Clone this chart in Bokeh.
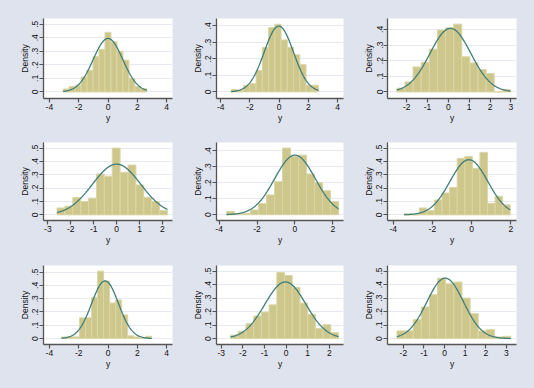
import numpy as np
from bokeh.plotting import figure
from bokeh.layouts import gridplot
from bokeh.models import FixedTicker, Range1d, GlobalInlineStyleSheet
from bokeh.embed import file_html
from bokeh.resources import INLINE

# ---------------- data ----------------
# histogram densities per panel (equal-width bins between bin_lo and bin_hi)
heights_1 = [0.022, 0.04, 0.05, 0.11, 0.16, 0.26, 0.315, 0.44, 0.37, 0.30, 0.235, 0.10, 0.04, 0.025]
heights_2 = [0.014, 0.008, 0.04, 0.05, 0.13, 0.27, 0.39, 0.41, 0.315, 0.27, 0.225, 0.165, 0.04, 0.04]
heights_3 = [0.024, 0.064, 0.16, 0.19, 0.274, 0.396, 0.41, 0.434, 0.225, 0.186, 0.143, 0.118, 0.0, 0.015]
heights_4 = [0.052, 0.065, 0.13, 0.10, 0.125, 0.306, 0.29, 0.50, 0.318, 0.373, 0.224, 0.132, 0.10, 0.032]
heights_5 = [0.02, 0.006, 0.008, 0.03, 0.07, 0.124, 0.207, 0.417, 0.365, 0.373, 0.255, 0.20, 0.15, 0.083]
heights_6 = [0.008, 0.0, 0.052, 0.032, 0.112, 0.164, 0.206, 0.423, 0.438, 0.348, 0.468, 0.087, 0.139, 0.075]
heights_7 = [0.012, 0.012, 0.012, 0.156, 0.156, 0.31, 0.507, 0.433, 0.267, 0.29, 0.178, 0.02, 0.012, 0.0, 0.017]
heights_8 = [0.025, 0.054, 0.11, 0.167, 0.197, 0.25, 0.49, 0.468, 0.38, 0.263, 0.18, 0.074, 0.103, 0.044]
heights_9 = [0.057, 0.057, 0.14, 0.234, 0.325, 0.448, 0.406, 0.419, 0.30, 0.185, 0.057, 0.066, 0.012, 0.017]
all_heights = [heights_1, heights_2, heights_3, heights_4, heights_5,
               heights_6, heights_7, heights_8, heights_9]

bin_lo = [-3.06, -3.29, -2.47, -2.60, -3.61, -3.44, -3.17, -2.57, -2.31]
bin_hi = [2.65, 2.70, 2.98, 2.22, 2.30, 1.97, 2.98, 2.43, 3.21]

# fitted normal density overlay parameters
norm_mean = [0.0, -0.02, 0.10, 0.0, 0.0, -0.14, -0.20, -0.03, 0.03]
norm_sd = [1.01, 1.0, 0.98, 1.05, 1.07, 0.966, 0.92, 0.95, 0.89]

# tick values / labels
xticks = [[-4, -2, 0, 2, 4], [-4, -2, 0, 2, 4], [-2, -1, 0, 1, 2, 3],
          [-3, -2, -1, 0, 1, 2], [-4, -2, 0, 2], [-4, -2, 0, 2],
          [-4, -2, 0, 2, 4], [-3, -2, -1, 0, 1, 2], [-2, -1, 0, 1, 2, 3]]
yticks_all = [0, 0.1, 0.2, 0.3, 0.4, 0.5]
ytick_labels = ["0", ".1", ".2", ".3", ".4", ".5"]
ytick_count = [6, 5, 5, 6, 5, 6, 6, 6, 6]
x_title = "y"
y_title = "Density"

# ---------------- layout / style ----------------
BG = "#dfe3ee"
BAR = "#cdc78c"
BAR_LINE = "#dbd6a6"
CURVE = "#3f7d79"
AXIS = "#555555"
GRID = "#e6e9f1"
FONT = "Liberation Sans"
FS = "8.5px"

x_ranges = [(-4.4, 4.4), (-4.29, 4.41), (-2.92, 3.27),
            (-3.19, 2.44), (-4.14, 2.56), (-4.29, 2.29),
            (-4.4, 4.4), (-3.22, 2.66), (-2.77, 3.49)]
y_ranges = [(-0.048, 0.542), (-0.040, 0.445), (-0.042, 0.470),
            (-0.042, 0.542), (-0.036, 0.452), (-0.042, 0.542),
            (-0.045, 0.550), (-0.044, 0.542), (-0.044, 0.542)]
cols = [(180, 43, 8), (174, 36, 11), (180, 33, 18)]   # width, left, right
rows = [(132, 18, 34), (124, 10, 36), (132, 9, 44)]   # height, top, bottom


def panel(i):
    cw, cl, cr = cols[i % 3]
    rh, rt, rb = rows[i // 3]
    p = figure(width=cw, height=rh, output_backend="svg", toolbar_location=None,
               x_range=Range1d(*x_ranges[i]), y_range=Range1d(*y_ranges[i]),
               min_border_left=cl, min_border_right=cr,
               min_border_top=rt, min_border_bottom=rb,
               background_fill_color="white", border_fill_color=BG,
               outline_line_color=None)
    h = all_heights[i]
    edges = np.linspace(bin_lo[i], bin_hi[i], len(h) + 1)
    p.quad(left=edges[:-1], right=edges[1:], bottom=0, top=h,
           fill_color=BAR, line_color=BAR_LINE, line_width=1)
    xs = np.linspace(bin_lo[i], bin_hi[i], 200)
    ys = np.exp(-0.5 * ((xs - norm_mean[i]) / norm_sd[i]) ** 2) / (norm_sd[i] * np.sqrt(2 * np.pi))
    p.line(xs, ys, line_color=CURVE, line_width=1.3)

    yt = yticks_all[:ytick_count[i]]
    p.xgrid.visible = False
    p.ygrid.ticker = FixedTicker(ticks=yt)
    p.ygrid.grid_line_color = GRID
    p.ygrid.grid_line_width = 1.2

    p.xaxis.ticker = FixedTicker(ticks=xticks[i])
    p.xaxis.major_label_overrides = {t: str(t) for t in xticks[i]}
    p.yaxis.ticker = FixedTicker(ticks=yt)
    p.yaxis.major_label_overrides = {t: lab for t, lab in zip(yt, ytick_labels)}
    p.yaxis.major_label_orientation = "vertical"
    p.xaxis.axis_label = x_title
    p.yaxis.axis_label = y_title
    for ax in (p.xaxis[0], p.yaxis[0]):
        ax.axis_line_color = AXIS
        ax.axis_line_width = 1.3
        ax.major_tick_line_color = AXIS
        ax.major_tick_line_width = 1.2
        ax.major_tick_out = 4
        ax.major_tick_in = 0
        ax.minor_tick_out = 0
        ax.minor_tick_in = 0
        ax.major_label_text_font = FONT
        ax.major_label_text_font_size = FS
        ax.major_label_text_color = "#111111"
        ax.axis_label_text_font = FONT
        ax.axis_label_text_font_size = FS
        ax.axis_label_text_font_style = "normal"
        ax.axis_label_text_color = "#111111"
        ax.axis_label_standoff = 0
    p.xaxis.major_label_standoff = 1
    p.yaxis.major_label_standoff = 1
    return p


figs = [panel(i) for i in range(9)]
grid = gridplot([figs[0:3], figs[3:6], figs[6:9]], toolbar_location=None)
grid.stylesheets = [GlobalInlineStyleSheet(css="html, body { background-color: %s; }" % BG)]

open("out.html", "w").write(file_html(grid, INLINE))
